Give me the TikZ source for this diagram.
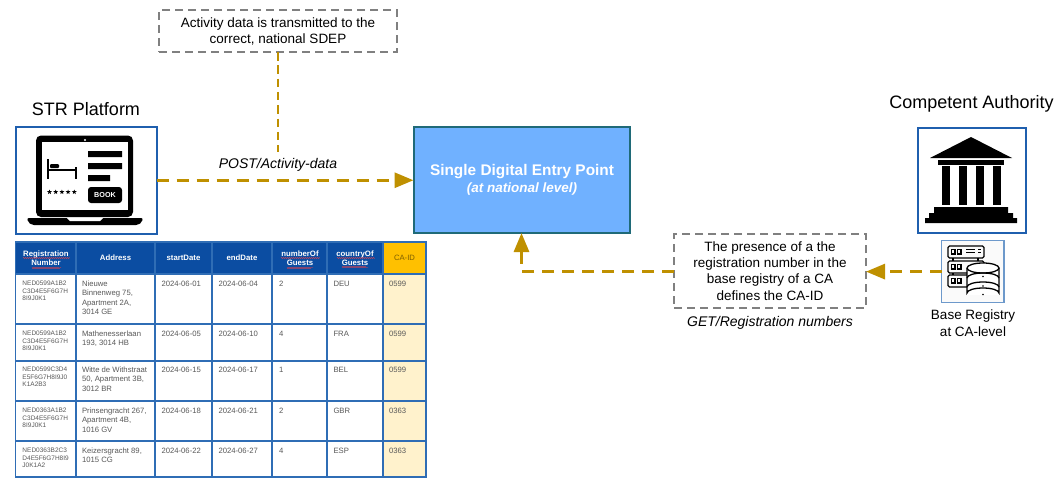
\documentclass[tikz,border=0pt]{standalone}
\usepackage{fontspec}
\setmainfont{Liberation Sans}
\usetikzlibrary{arrows.meta,decorations.pathmorphing,shapes.geometric}
\definecolor{gold}{HTML}{BF9000}
\definecolor{hdr}{HTML}{0B4DA2}
\definecolor{grid}{HTML}{2F6DB5}
\definecolor{frame}{HTML}{1F5FAE}
\definecolor{dashgrey}{HTML}{808080}
\definecolor{sdepfill}{HTML}{70B1FF}
\definecolor{sdepline}{HTML}{1F6A78}
\definecolor{cellgrey}{HTML}{595959}
\definecolor{caheadfill}{HTML}{FFC000}
\definecolor{cacellfill}{HTML}{FFF2CC}
\definecolor{caheadtext}{HTML}{7F6000}
\newcommand{\fs}[2]{\fontsize{#1}{#2}\selectfont}
\tikzset{
  every node/.style={outer sep=0pt},
  flow/.style={draw=gold,line width=3pt,dash pattern=on 12pt off 8pt,-{Triangle[length=19pt,width=15pt]}},
  notebox/.style={draw=dashgrey,line width=2pt,dash pattern=on 8pt off 5pt,fill=white,align=center,anchor=north west,inner sep=0pt,text=black},
  iconbox/.style={draw=frame,line width=2pt,fill=white,anchor=north west,inner sep=0pt},
  title/.style={font=\fs{18}{20},text=black,inner sep=0pt},
  lab/.style={font=\fs{14}{17}\itshape,text=black,inner sep=0pt},
  hd/.style={font=\fs{7.8}{9.2}\bfseries,text=white,align=center,inner sep=0pt},
  td/.style={font=\fs{7.7}{9.3},text=cellgrey,align=left,anchor=north west,inner sep=0pt},
  tr/.style={font=\fs{6.5}{7.5},text=cellgrey,align=left,anchor=north west,inner sep=0pt},
  wave/.style={draw=red!75!white,line width=.45pt,decorate,decoration={snake,segment length=2pt,amplitude=.5pt}},
}
\begin{document}
\begin{tikzpicture}[x=1pt,y=-1pt]
\useasboundingbox (0,0) rectangle (1061,480);
% boxes
\node[notebox,minimum width=238pt,minimum height=42pt,font=\fs{13.5}{16}] (note) at (159,10) {Activity data is transmitted to the\\correct, national SDEP};
\node[iconbox,minimum width=141pt,minimum height=107.5pt] (str) at (15.5,126.5) {};
\node[title] (strt) at (86,109) {STR Platform};
\node[draw=sdepline,line width=2pt,fill=sdepfill,anchor=north west,minimum width=216pt,minimum height=106pt,inner sep=0pt] (sdep) at (413.5,127) {};
\node[font=\fs{15.4}{18}\bfseries,text=white,inner sep=0pt] (sdept) at (522,172) {Single Digital Entry Point};
\node[font=\fs{13.5}{16}\bfseries\itshape,text=white,inner sep=0pt] (sdeps) at (522,189) {(at national level)};
\node[notebox,minimum width=192pt,minimum height=74pt,font=\fs{13.5}{16.2}] (ca) at (674,234) {The presence of a the\\registration number in the\\base registry of a CA\\defines the CA-ID};
\node[iconbox,minimum width=108pt,minimum height=104.5pt] (auth) at (917.5,128) {};
\node[title] (autht) at (971.5,104) {Competent Authority};
\node[draw=grid!70!white,line width=1.5pt,fill=black!2,anchor=north west,minimum width=62.5pt,minimum height=61.8pt,inner sep=0pt] (reg) at (941.5,240.7) {};
\node[font=\fs{13.5}{16.5},align=center,inner sep=0pt,text=black] (regt) at (973,323) {Base Registry\\at CA-level};
\node[lab] (post) at (278,165) {POST/Activity-data};
\node[lab] (get) at (770,323) {GET/Registration numbers};
% connectors
\coordinate (tap) at (278,152);
\draw[draw=gold,line width=2pt,dash pattern=on 8.5pt off 4.8pt] (note.south -| tap) -- (tap);
\draw[flow] (str.east) -- (str.east -| sdep.west);
\draw[flow] (reg.west) -- (reg.west -| ca.east);
\draw[flow] (ca.west) -| (sdep.south);
% laptop
\fill[black,rounded corners=5pt] (36,135.5) rectangle (133,217);
\fill[white] (42,142) rectangle (128,210);
\fill[white] (85,140) circle (1.2);
\fill[black,rounded corners=2pt] (27,218) -- (143,218) -- (142,222) -- (138,225) -- (32,225) -- (28,222) -- cycle;
\fill[white] (67,218) -- (103,218) -- (100,221) -- (70,221) -- cycle;
\fill[black] (88,151) rectangle (122,157) (88,163) rectangle (122,169) (88,175) rectangle (110,181);
\fill[black,rounded corners=3pt] (88,187) rectangle (122,203);
\node[font=\fs{7.2}{8}\bfseries,text=white,inner sep=0pt] (book) at (105,195) {BOOK};
\draw[black,line width=1.4pt] (48,159) -- (48,179) (48,170) -- (76,170) (76,167) -- (76,179);
\fill[black,rounded corners=1pt] (50,164) rectangle (59,168);
\foreach \sx in {49.5,55.7,61.9,68.1,74.3}
  \node[star,star points=5,star point ratio=2.4,fill=black,inner sep=0pt,minimum size=5pt] at (\sx,192) {};
% temple
\fill[black] (971,137) -- (1012,158) -- (930,158) -- cycle;
\fill[black] (938,160) rectangle (1004,165);
\foreach \cx in {942,959,976,993} \fill[black] (\cx,166) rectangle (\cx+7.5,205);
\fill[black] (934,207) rectangle (1008,213) (929,213) rectangle (1013,218) (925,218) rectangle (1017,223);
% database / servers
\begin{scope}[black,line width=1.3pt]
\foreach \ty in {246,261,275}{
  \draw[rounded corners=1.5pt] (948,\ty) rectangle (984,\ty+12);
  \draw (951.5,\ty+3.5) rectangle (955,\ty+8) (957.5,\ty+3.5) rectangle (961,\ty+8);
}
\draw (966,249.5) -- (975,249.5) (966,252.5) -- (975,252.5) (978,249.5) -- (981,249.5) (978,252.5) -- (981,252.5);
\draw (953,258) -- (953,261) (953,273) -- (953,275) (978,258) -- (978,261);
\fill[white] (967,266) rectangle (999,295);
\draw[fill=white] (967,268) -- (967,293) arc[start angle=180,end angle=360,x radius=16,y radius=5] -- (999,268);
\draw[fill=white] (967,268) arc[start angle=180,end angle=540,x radius=16,y radius=5];
\draw (967,278) arc[start angle=180,end angle=360,x radius=16,y radius=5];
\draw (967,287) arc[start angle=180,end angle=360,x radius=16,y radius=5];
\fill (983,276.5) circle (.8) (983,286) circle (.8) (983,294.5) circle (.8);
\end{scope}
% table
\fill[hdr] (15.5,242) rectangle (383,274);
\fill[white] (15.5,274) rectangle (383,477);
\fill[cacellfill] (383,274) rectangle (426,477);
\fill[caheadfill] (383,242) rectangle (426,274);
\draw[grid,line width=1.5pt] (15.5,242) rectangle (426,477);
\foreach \gx in {76,155,212,272,327,383} \draw[grid,line width=1.5pt] (\gx,242) -- (\gx,477);
\foreach \gy in {274,324,361,401,441} \draw[grid,line width=1.5pt] (15.5,\gy) -- (426,\gy);
% header
\node[hd] (h1) at (46,258.5) {Registration\\Number};
\node[hd] (h2) at (115.5,258) {Address};
\node[hd] (h3) at (183.5,258) {startDate};
\node[hd] (h4) at (242,258) {endDate};
\node[hd] (h5) at (300,258.5) {numberOf\\Guests};
\node[hd] (h6) at (355,258.5) {countryOf\\Guests};
\node[font=\fs{7.7}{9.2},text=caheadtext,inner sep=0pt] (h7) at (404.5,258) {CA-ID};
\draw[wave] (23,258) -- (69,258) (32,267.5) -- (61,267.5);
\draw[wave] (281,258) -- (319,258) (287,267.5) -- (313,267.5);
\draw[wave] (337,258) -- (374,258) (342,267.5) -- (368,267.5);
% rows: reg, address, start, end, guests, country, id
\newcommand{\trow}[8]{%
  \node[tr] at (22.5,#1) {#2};
  \node[td] at (82,#1) {#3};
  \node[td] at (161.5,#1) {#4};
  \node[td] at (218.5,#1) {#5};
  \node[td] at (279,#1) {#6};
  \node[td] at (333.5,#1) {#7};
  \node[td] at (389,#1) {#8};
}
\trow{281}{NED0599A1B2\\C3D4E5F6G7H\\8I9J0K1}{Nieuwe\\Binnenweg 75,\\Apartment 2A,\\3014 GE}{2024-06-01}{2024-06-04}{2}{DEU}{0599}
\trow{331}{NED0599A1B2\\C3D4E5F6G7H\\8I9J0K1}{Mathenesserlaan\\193, 3014 HB}{2024-06-05}{2024-06-10}{4}{FRA}{0599}
\trow{367}{NED0599C3D4\\E5F6G7H8I9J0\\K1A2B3}{Witte de Withstraat\\50, Apartment 3B,\\3012 BR}{2024-06-15}{2024-06-17}{1}{BEL}{0599}
\trow{408}{NED0363A1B2\\C3D4E5F6G7H\\8I9J0K1}{Prinsengracht 267,\\Apartment 4B,\\1016 GV}{2024-06-18}{2024-06-21}{2}{GBR}{0363}
\trow{448}{NED0363B2C3\\D4E5F6G7H8I9\\J0K1A2}{Keizersgracht 89,\\1015 CG}{2024-06-22}{2024-06-27}{4}{ESP}{0363}
\end{tikzpicture}
\end{document}
